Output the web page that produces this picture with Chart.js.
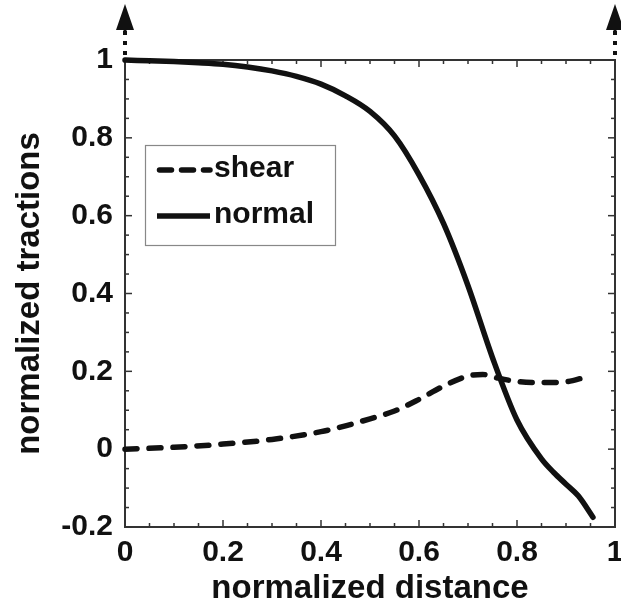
<!DOCTYPE html>
<html>
<head>
<meta charset="utf-8">
<script src="https://cdn.jsdelivr.net/npm/chart.js@4/dist/chart.umd.min.js"></script>
<style>
  html, body { margin: 0; padding: 0; background: #fff; }
  #wrap { width: 621px; height: 609px; }
</style>
</head>
<body>
<div id="wrap"><canvas id="chart"></canvas></div>
<script>
// values
const seriesNames = ["shear", "normal"];

const normalX = [0, 0.05, 0.1, 0.15, 0.2, 0.25, 0.3, 0.35, 0.4, 0.45, 0.5, 0.55, 0.6, 0.65, 0.7, 0.75, 0.8, 0.85, 0.875, 0.9, 0.925, 0.955];
const normalY = [1.0, 0.998, 0.996, 0.993, 0.989, 0.982, 0.972, 0.958, 0.938, 0.908, 0.868, 0.805, 0.705, 0.58, 0.42, 0.235, 0.075, -0.025, -0.06, -0.09, -0.12, -0.175];

const shearX = [0, 0.1, 0.2, 0.3, 0.4, 0.45, 0.5, 0.55, 0.6, 0.65, 0.7, 0.73, 0.76, 0.8, 0.85, 0.9, 0.94];
const shearY = [0.0, 0.005, 0.013, 0.025, 0.045, 0.06, 0.078, 0.098, 0.128, 0.162, 0.188, 0.192, 0.183, 0.174, 0.171, 0.173, 0.185];

const xTicks = [0, 0.2, 0.4, 0.6, 0.8, 1];
const yTicks = [-0.2, 0, 0.2, 0.4, 0.6, 0.8, 1];

const FONT = "'Liberation Sans', Arial, Helvetica, sans-serif";
const INK = "#111";

function toPoints(xs, ys) {
    return xs.map((x, i) => ({ x: x, y: ys[i] }));
}

function fmt(v) {
    return String(Math.round(v * 10) / 10);
}

function seg(ctx, x1, y1, x2, y2) {
    ctx.beginPath();
    ctx.moveTo(x1, y1);
    ctx.lineTo(x2, y2);
    ctx.stroke();
}

// frame on all four sides with inward ticks
const framePlugin = {
    id: "frame",
    beforeDatasetsDraw(chart) {
        const { ctx, chartArea: a } = chart;
        const x = chart.scales.x, y = chart.scales.y;
        ctx.save();
        ctx.strokeStyle = "#333";
        ctx.lineWidth = 2;
        ctx.strokeRect(a.left, a.top, a.right - a.left, a.bottom - a.top);
        ctx.lineWidth = 1.5;
        for (let i = 0; i <= 20; i++) {
            const len = i % 4 === 0 ? 7 : 4;
            const px = x.getPixelForValue(i * 0.05);
            seg(ctx, px, a.bottom, px, a.bottom - len);
            seg(ctx, px, a.top, px, a.top + len);
        }
        for (let i = -4; i <= 20; i++) {
            const len = i % 4 === 0 ? 7 : 4;
            const py = y.getPixelForValue(i * 0.05);
            seg(ctx, a.left, py, a.left + len, py);
            seg(ctx, a.right, py, a.right - len, py);
        }
        ctx.restore();
    },
    afterDraw(chart) {
        const { ctx } = chart;
        const x = chart.scales.x, y = chart.scales.y;
        const top = y.getPixelForValue(1);
        ctx.save();
        ctx.fillStyle = INK;
        // dotted arrows at both ends
        [0, 1].forEach(v => {
            const px = x.getPixelForValue(v);
            [7, 17, 27].forEach(d => ctx.fillRect(px - 2, top - d - 2, 4, 4));
            ctx.fillRect(px - 1.5, top - 33, 3, 4);
            ctx.beginPath();
            ctx.moveTo(px, 4);
            ctx.lineTo(px - 9, 30);
            ctx.lineTo(px + 9, 30);
            ctx.closePath();
            ctx.fill();
        });

        // legend box
        ctx.strokeStyle = "#888";
        ctx.lineWidth = 1.2;
        ctx.strokeRect(145.5, 145.5, 190, 100);
        const rows = [177, 223];
        chart.data.datasets.forEach((ds, i) => {
            const ly = rows[i] - 7;
            const dashed = ds.borderDash.length > 0;
            ctx.strokeStyle = ds.borderColor;
            ctx.lineWidth = ds.borderWidth;
            ctx.lineCap = dashed ? "round" : "butt";
            ctx.setLineDash(dashed ? [12, 10] : []);
            seg(ctx, dashed ? 159.5 : 157, ly, 210, ly);
            ctx.setLineDash([]);
            ctx.font = "bold 30px " + FONT;
            ctx.textBaseline = "alphabetic";
            ctx.fillStyle = INK;
            ctx.fillText(ds.label, 214, rows[i]);
        });
        ctx.restore();
    }
};

const ctx = document.getElementById("chart").getContext("2d");

new Chart(ctx, {
    type: "line",
    data: {
        datasets: [
            {
                label: seriesNames[0],
                data: toPoints(shearX, shearY),
                borderColor: INK,
                borderWidth: 5.5,
                borderDash: [12, 12],
                borderCapStyle: "round",
                pointRadius: 0,
                cubicInterpolationMode: "monotone",
                clip: 8
            },
            {
                label: seriesNames[1],
                data: toPoints(normalX, normalY),
                borderColor: INK,
                borderWidth: 5.5,
                borderDash: [],
                borderCapStyle: "round",
                pointRadius: 0,
                cubicInterpolationMode: "monotone",
                clip: 8
            }
        ]
    },
    options: {
        responsive: true,
        maintainAspectRatio: false,
        animation: false,
        layout: { padding: { top: 60, right: 6, left: 0, bottom: 0 } },
        plugins: {
            legend: { display: false },
            tooltip: { enabled: false }
        },
        scales: {
            x: {
                type: "linear",
                min: 0,
                max: 1,
                afterBuildTicks: s => { s.ticks = xTicks.map(v => ({ value: v })); },
                afterFit: s => { s.height = 82; s.paddingLeft = 0; s.paddingRight = 0; },
                grid: { display: false, drawTicks: false },
                border: { display: false },
                ticks: {
                    color: INK,
                    padding: 8,
                    maxRotation: 0,
                    autoSkip: false,
                    font: { family: FONT, size: 30, weight: "bold" },
                    callback: v => fmt(v)
                },
                title: {
                    display: true,
                    text: "normalized distance",
                    color: INK,
                    font: { family: FONT, size: 33, weight: "bold" },
                    padding: { top: 0, bottom: 0 }
                }
            },
            y: {
                type: "linear",
                min: -0.2,
                max: 1,
                afterBuildTicks: s => { s.ticks = yTicks.map(v => ({ value: v })); },
                afterFit: s => { s.width = 125; },
                grid: { display: false, drawTicks: false },
                border: { display: false },
                ticks: {
                    color: INK,
                    padding: 12,
                    autoSkip: false,
                    font: { family: FONT, size: 30, weight: "bold" },
                    callback: v => fmt(v)
                },
                title: {
                    display: true,
                    text: "normalized tractions",
                    color: INK,
                    font: { family: FONT, size: 33, weight: "bold" },
                    padding: { top: 10, bottom: 0 }
                }
            }
        }
    },
    plugins: [framePlugin]
});
</script>
</body>
</html>
